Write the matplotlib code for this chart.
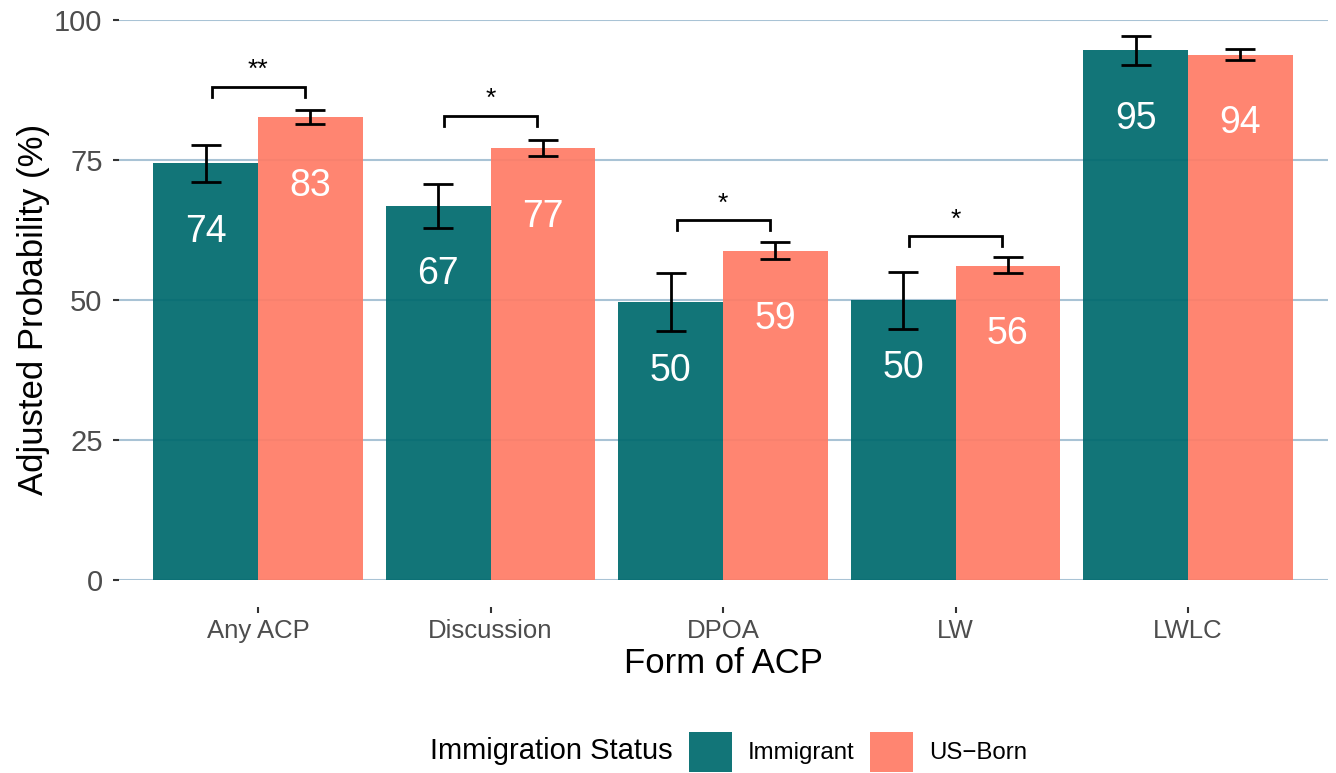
import numpy as np
import matplotlib.pyplot as plt
from matplotlib.patches import Patch

plt.rcParams['font.family'] = ['Liberation Sans', 'DejaVu Sans']

# Adjusted probabilities (%) with 95% CI bounds
forms = ['Any ACP', 'Discussion', 'DPOA', 'LW', 'LWLC']
immigrant = [74.4, 66.8, 49.6, 50.0, 94.6]
immigrant_lo = [71.1, 62.9, 44.5, 44.8, 92.0]
immigrant_hi = [77.7, 70.7, 54.8, 55.0, 97.1]
usborn = [82.6, 77.1, 58.8, 56.1, 93.8]
usborn_lo = [81.4, 75.7, 57.3, 54.8, 92.9]
usborn_hi = [83.9, 78.6, 60.4, 57.7, 94.8]

# Significance brackets: (category index, bracket height, stars)
signif = [(0, 88.1, '**'), (1, 82.9, '*'), (2, 64.3, '*'), (3, 61.4, '*')]

TEAL = '#006a6e'
SALMON = '#ff7c66'
GRID = '#a9c3d5'

fig = plt.figure(figsize=(13.36, 7.73), dpi=100)
ax = fig.add_axes([118.5 / 1336, 193 / 773, 1209 / 1336, 560 / 773])

x = np.arange(len(forms))
w = 0.45

ax.bar(x - w / 2, immigrant, width=w, color=TEAL, alpha=0.93, zorder=2, label='Immigrant')
ax.bar(x + w / 2, usborn, width=w, color=SALMON, alpha=0.93, zorder=2, label='US\u2212Born')

# Error bars
for vals, lo, hi, off in [(immigrant, immigrant_lo, immigrant_hi, -w / 2),
                          (usborn, usborn_lo, usborn_hi, w / 2)]:
    vals = np.array(vals)
    yerr = [vals - np.array(lo), np.array(hi) - vals]
    ax.errorbar(x + off, vals, yerr=yerr, fmt='none', ecolor='black',
                elinewidth=2, capsize=11, capthick=2, zorder=3)

# Value labels inside the bars
for xi, v in zip(x, immigrant):
    ax.text(xi - w / 2, v - 12.2, f'{v:.0f}', ha='center', va='center',
            color='white', fontsize=27, zorder=4)
for xi, v in zip(x, usborn):
    ax.text(xi + w / 2, v - 12.2, f'{v:.0f}', ha='center', va='center',
            color='white', fontsize=27, zorder=4)

# Significance brackets
tip = 1.8
for i, yb, stars in signif:
    x0 = i - w / 2 + 0.025
    x1 = i + w / 2 - 0.025
    ax.plot([x0, x0, x1, x1], [yb - tip, yb, yb, yb - tip], color='black',
            lw=2, solid_joinstyle='miter', zorder=3)
    ax.text(i, yb + 0.8, stars, ha='center', va='bottom', fontsize=19, zorder=4)

ax.set_xlim(-0.6, len(forms) - 0.4)
ax.set_ylim(0, 100)
ax.set_yticks([0, 25, 50, 75, 100])
ax.set_xticks(x)
ax.set_xticklabels(forms)

ax.grid(axis='y', color=GRID, lw=1.5, zorder=0)
ax.grid(axis='x', visible=False)
ax.set_axisbelow(True)
for s in ['top', 'right', 'left']:
    ax.spines[s].set_visible(False)
# x ticks sit a little below the panel
ax.spines['bottom'].set_position(('outward', 19.5))
ax.spines['bottom'].set_visible(False)

ax.tick_params(axis='y', length=4.5, width=1.5, color='#333333', pad=7,
               labelsize=21, labelcolor='#4d4d4d')
ax.tick_params(axis='x', length=4.5, width=1.5, color='#333333', pad=4,
               labelsize=18.5, labelcolor='#4d4d4d')

ax.set_xlabel('Form of ACP', fontsize=25, labelpad=3)
ax.set_ylabel('Adjusted Probability (%)', fontsize=25)
ax.yaxis.set_label_coords(-0.057, 0.484)

# Legend along the bottom, title on the left
handles = [Patch(facecolor=TEAL, alpha=0.93, label='Immigrant'),
           Patch(facecolor=SALMON, alpha=0.93, label='US\u2212Born')]
fig.text(430 / 1336, 1 - 751 / 773, 'Immigration Status', ha='left', va='center', fontsize=21)
fig.legend(handles=handles, ncol=2, frameon=False, fontsize=17.3,
           loc='center left', bbox_to_anchor=(689 / 1336, 1 - 752 / 773),
           handlelength=1.79, handleheight=2.24, handletextpad=0.67, columnspacing=0.62,
           borderpad=0.0, borderaxespad=0.0)

fig.savefig('out.png', dpi=100)
